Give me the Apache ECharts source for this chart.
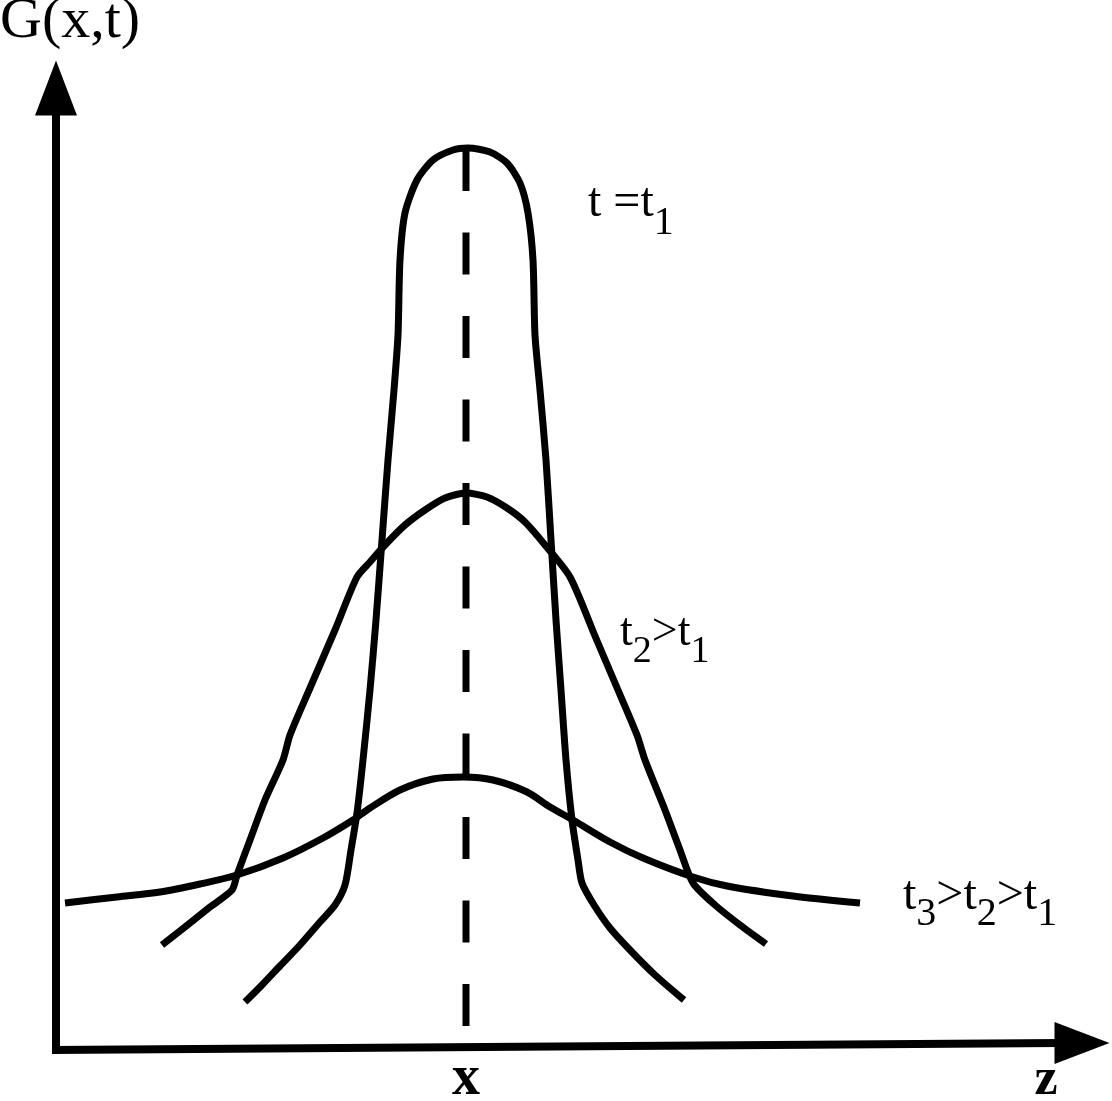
<!DOCTYPE html>
<html>
<head>
<meta charset="utf-8">
<script src="https://cdn.jsdelivr.net/npm/echarts@6/dist/echarts.min.js"></script>
<style>
  html, body { margin: 0; padding: 0; background: #fff; }
  #chart { width: 1112px; height: 1101px; }
</style>
</head>
<body>
<div id="chart"></div>
<script>
const curveT1 = [
  [189,48],[206,65],[224,84],[244,105],[264,128],[279,145],[289,165],
  [295,200],[301,237],[307,290],[314,360],[320,430],[326,510],[332,590],[338,660],[342,715],
  [344,790],[349,837],[361,870],[377,890],[397,900],[412,902],[434,898],[451,887],[464,867],[472,837],[477,790],
  [479,715],[484,660],[490,590],[495,510],[500,430],[505,360],[510,290],[516,230],[522,190],[526,167],
  [538,145],[554,122],[574,100],[599,75],[628,50]
];
const curveT2 = [
  [106,105],[129,123],[154,143],[176,160],[181,175],[194,210],[209,250],[227,290],[234,315],
  [254,362],[279,420],[301,473],[314,488],[329,505],[349,525],[369,540],[389,552],[410,557],
  [431,553],[451,542],[469,528],[489,505],[514,473],[539,414],[559,367],[581,315],[589,290],
  [609,240],[624,200],[637,167],[659,145],[684,125],[710,106]
];
const curveT3 = [
  [9,147],[61,153],[104,158],[144,166],[181,175],[227,192],[267,212],[297,230],[314,242],
  [344,260],[377,271],[407,273],[437,270],[471,258],[494,243],[517,230],[554,208],[587,192],
  [637,173],[671,164],[737,154],[804,147]
];
const centerLine = [[410,901],[410,23]];
const gAxisLine = [[0,-4],[0,935]];
const zAxisLine = [[-4,0],[1004,7]];
const gArrow = [0,962];
const zArrow = [1026,7];

const labelTexts = ['G(x,t)', 't =t1', 't2>t1', 't3>t2>t1', 'x', 'z'];
const labelAnchors = [[-56,1057],[532,871],[564,440],[847,178],[410,-30],[990,-31]];

const black = '#000';
const serif = 'Liberation Serif';

function line(data, width, dashed, smooth) {
  return {
    type: 'line', data: data, symbol: 'none', silent: true, clip: false,
    smooth: smooth || false,
    lineStyle: { color: black, width: width, opacity: 1, join: 'round', cap: 'butt', type: dashed ? [42, 41.5] : 'solid' }
  };
}
function sub(mainSize, subSize, pad) {
  return {
    m: { fontFamily: serif, fontSize: mainSize, color: black, verticalAlign: 'top' },
    s: { fontFamily: serif, fontSize: subSize, color: black, verticalAlign: 'top', padding: [pad, 0, 0, 0] }
  };
}
const labelData = [
  { value: labelAnchors[0], label: { formatter: labelTexts[0], fontFamily: serif, fontSize: 58, color: black, align: 'left', verticalAlign: 'top' } },
  { value: labelAnchors[1], label: { formatter: '{m|t =t}{s|1}', rich: sub(48, 40, 24), align: 'left', verticalAlign: 'top' } },
  { value: labelAnchors[2], label: { formatter: '{m|t}{s|2}{m|>t}{s|1}', rich: sub(46, 38, 23), align: 'left', verticalAlign: 'top' } },
  { value: labelAnchors[3], label: { formatter: '{m|t}{s|3}{m|>t}{s|2}{m|>t}{s|1}', rich: sub(48, 40, 22), align: 'left', verticalAlign: 'top' } },
  { value: labelAnchors[4], label: { formatter: labelTexts[4], fontFamily: serif, fontWeight: 'bold', fontSize: 56, color: black, align: 'center', verticalAlign: 'middle' } },
  { value: labelAnchors[5], label: { formatter: labelTexts[5], fontFamily: serif, fontWeight: 'bold', fontSize: 52, color: black, align: 'center', verticalAlign: 'middle' } }
];

const chart = echarts.init(document.getElementById('chart'), null, { renderer: 'canvas' });
chart.setOption({
  animation: false,
  backgroundColor: '#fff',
  grid: { left: 0, right: 0, top: 0, bottom: 0 },
  xAxis: { type: 'value', min: -56, max: 1056, show: false },
  yAxis: { type: 'value', min: -51, max: 1050, show: false },
  series: [
    line(gAxisLine, 8),
    line(zAxisLine, 8),
    line(centerLine, 7, true),
    line(curveT3, 7, false, 0.3),
    line(curveT2, 7, false, 0.25),
    line(curveT1, 7, false, 0.25),
    {
      type: 'scatter', silent: true, clip: false,
      data: [
        { value: gArrow, symbol: 'triangle', symbolSize: [42, 55], symbolRotate: 0 },
        { value: zArrow, symbol: 'triangle', symbolSize: [42, 55], symbolRotate: -90 }
      ],
      itemStyle: { color: black, opacity: 1 }
    },
    {
      type: 'scatter', silent: true, clip: false, symbolSize: 0,
      itemStyle: { opacity: 1 },
      data: labelData,
      label: { show: true, position: [0, 0] }
    }
  ]
});
</script>
</body>
</html>
